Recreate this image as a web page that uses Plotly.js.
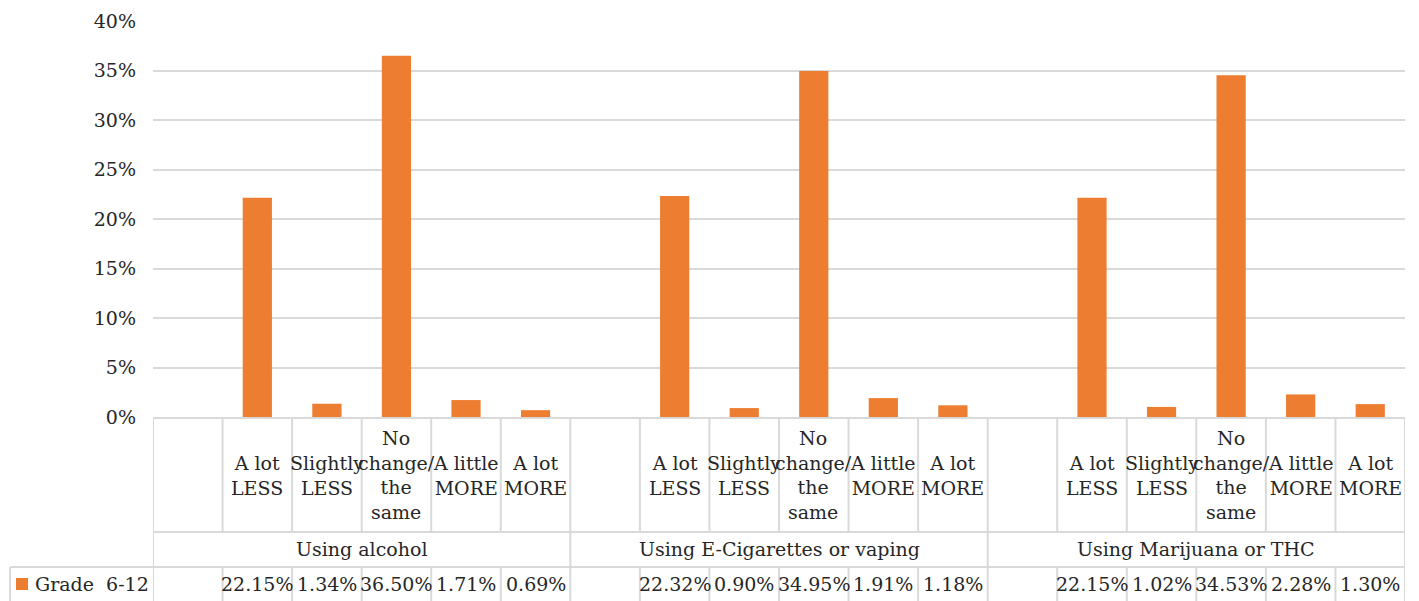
<!DOCTYPE html>
<html>
<head>
<meta charset="utf-8">
<script src="https://cdn.plot.ly/plotly-3.0.1.min.js"></script>
<style>html,body{margin:0;padding:0;background:#fff}#chart{width:1419px;height:601px}</style>
</head>
<body>
<div id="chart"></div>
<script>
// ---- data ----
const groups = ["Using alcohol", "Using E-Cigarettes or vaping", "Using Marijuana or THC"];
const responses = ["A lot<br>LESS", "Slightly<br>LESS", "No<br>change/<br>the<br>same", "A little<br>MORE", "A lot<br>MORE"];
const seriesName = "Grade  6-12";
const alcohol = [22.15, 1.34, 36.50, 1.71, 0.69];
const vaping = [22.32, 0.90, 34.95, 1.91, 1.18];
const marijuana = [22.15, 1.02, 34.53, 2.28, 1.30];
const yTicks = [0, 5, 10, 15, 20, 25, 30, 35, 40];

// ---- build ----
const groupValues = [alcohol, vaping, marijuana];
const slotsPerGroup = responses.length + 1; // leading blank column in each group
const nSlots = groups.length * slotsPerGroup;
const xs = [], ys = [];
groupValues.forEach((vals, g) => vals.forEach((v, r) => { xs.push(g * slotsPerGroup + 1 + r); ys.push(v); }));

const W = 1419, H = 601;
const mL = 153, mR = 14, mT = 21, mB = 184;
const plotH = H - mT - mB, plotW = W - mL - mR;
const py = Y => (H - mB - Y) / plotH;   // pixel row -> paper y
const px = X => (X - mL) / plotW;       // pixel col -> paper x

const font = {family: "DejaVu Serif", size: 19, color: "#262626"};
const lineCol = "#d9d9d9";
const annotations = [], shapes = [];

// category labels and values
groupValues.forEach((vals, g) => {
  responses.forEach((lab, r) => {
    const xi = g * slotsPerGroup + 1 + r;
    annotations.push({x: xi, xref: "x", y: py(475), yref: "paper", text: lab, showarrow: false,
      xanchor: "center", yanchor: "middle", font: font, align: "center"});
    annotations.push({x: xi, xref: "x", y: py(584), yref: "paper", text: vals[r].toFixed(2) + "%", showarrow: false,
      xanchor: "center", yanchor: "middle", font: font});
  });
  annotations.push({x: g * slotsPerGroup + (slotsPerGroup - 1) / 2, xref: "x", y: py(549), yref: "paper",
    text: groups[g], showarrow: false, xanchor: "center", yanchor: "middle", font: font});
});
// legend key in table
annotations.push({x: px(33), xref: "paper", y: py(584), yref: "paper", text: seriesName.replace(/ /g, "&nbsp;"),
  showarrow: false, xanchor: "left", yanchor: "middle", font: font});
shapes.push({type: "rect", xref: "paper", yref: "paper", x0: px(16), x1: px(28), y0: py(590), y1: py(578),
  fillcolor: "#ED7D31", line: {width: 0}});

// table grid lines
for (let k = 0; k <= nSlots; k++) {
  const xb = k - 0.5;
  const isGroup = k % slotsPerGroup === 0;
  if (isGroup) {
    shapes.push({type: "line", xref: "x", yref: "paper", x0: xb, x1: xb, y0: 0, y1: py(601), line: {color: lineCol, width: 2}});
  } else {
    shapes.push({type: "line", xref: "x", yref: "paper", x0: xb, x1: xb, y0: 0, y1: py(532), line: {color: lineCol, width: 2}});
    shapes.push({type: "line", xref: "x", yref: "paper", x0: xb, x1: xb, y0: py(567), y1: py(601), line: {color: lineCol, width: 2}});
  }
}
shapes.push({type: "line", xref: "paper", yref: "paper", x0: 0, x1: 1, y0: py(532), y1: py(532), line: {color: lineCol, width: 2}});
shapes.push({type: "line", xref: "paper", yref: "paper", x0: px(10), x1: 1, y0: py(567), y1: py(567), line: {color: lineCol, width: 2}});
shapes.push({type: "line", xref: "paper", yref: "paper", x0: px(10), x1: px(10), y0: py(567), y1: py(601), line: {color: lineCol, width: 2}});

const trace = {type: "bar", x: xs, y: ys, name: seriesName, marker: {color: "#ED7D31"}, hoverinfo: "skip"};

const layout = {
  width: W, height: H,
  margin: {l: mL, r: mR, t: mT, b: mB, pad: 0},
  paper_bgcolor: "#fff", plot_bgcolor: "#fff",
  showlegend: false,
  bargap: 0.58,
  font: font,
  xaxis: {range: [-0.5, nSlots - 0.5], showticklabels: false, showgrid: false, zeroline: false,
    showline: true, linecolor: lineCol, linewidth: 2, ticks: "", fixedrange: true},
  yaxis: {range: [0, 40], tickvals: yTicks, ticktext: yTicks.map(v => v + "%"), showgrid: true,
    gridcolor: lineCol, gridwidth: 2, zeroline: false, showline: false, ticks: "",
    ticklabelstandoff: 16, tickfont: font},
  annotations: annotations,
  shapes: shapes
};

Plotly.newPlot("chart", [trace], layout, {staticPlot: true, displayModeBar: false});
</script>
</body>
</html>
